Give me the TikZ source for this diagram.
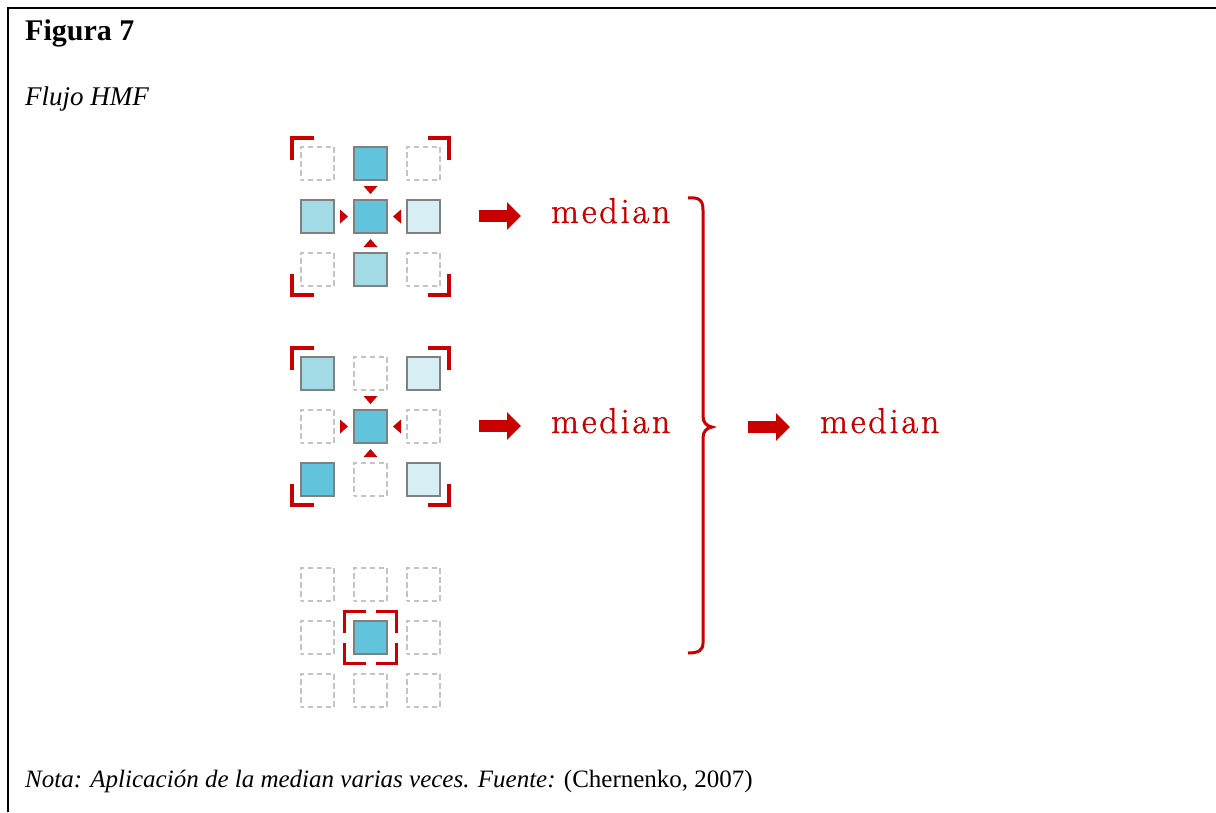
\documentclass[tikz,border=0pt]{standalone}
\usepackage{fontspec}
\setmainfont{Liberation Serif}
\newfontfamily\lmfont[LetterSpace=8,FakeBold=1.2]{Latin Modern Roman}
\usetikzlibrary{arrows.meta}
\definecolor{hred}{RGB}{200,0,0}
\definecolor{sqdarkc}{RGB}{98,195,220}
\definecolor{sqmedc}{RGB}{162,219,230}
\definecolor{sqlightc}{RGB}{214,238,244}
\definecolor{sqborder}{RGB}{128,128,128}
\definecolor{sqdash}{RGB}{196,196,196}
\tikzset{
  cell/.style={draw=sqborder, line width=2.2pt, minimum size=33.5pt, inner sep=0pt, outer sep=0pt},
  cdark/.style={cell, fill=sqdarkc},
  cmed/.style={cell, fill=sqmedc},
  clight/.style={cell, fill=sqlightc},
  cempty/.style={draw=sqdash, line width=2pt, dash pattern=on 5.5pt off 3.5pt, dash phase=2pt, minimum size=33.5pt, inner sep=0pt},
  bracketline/.style={draw=hred, line width=3.6pt},
  tri/.style={fill=hred},
  bigarrow/.style={draw=hred, line width=12pt, -{Triangle[length=14pt,width=27pt]}},
  medtxt/.style={text=hred, font=\lmfont\fontsize{36}{40}\selectfont, anchor=base west, inner sep=0pt},
  captxt/.style={anchor=base west, inner sep=0pt, font=\fontsize{25}{30}\selectfont},
  brace/.style={draw=hred, line width=3pt}
}
\begin{document}
\begin{tikzpicture}[x=1pt,y=-1pt]
\useasboundingbox (0,0) rectangle (1216,812);
\fill[white] (0,0) rectangle (1216,812);
% frame
\draw[line width=2pt] (8,812) -- (8,7.5) -- (1216,7.5);
% captions
\node[captxt, font=\fontsize{30}{34}\selectfont\bfseries] (fig) at (25,40) {Figura 7};
\node[captxt, font=\fontsize{27}{32}\selectfont\itshape] (tit) at (25,105) {Flujo HMF};
\node[captxt] (nota) at (25,787) {\textit{Nota: Aplicación de la median varias veces. Fuente:} (Chernenko, 2007)};

% grid 1
\begin{scope}[shift={(370.5,216.5)}]
  \foreach \i/\j/\s in {-1/-1/cempty,1/-1/cempty,-1/1/cempty,1/1/cempty,0/-1/cdark,-1/0/cmed,0/0/cdark,1/0/clight,0/1/cmed}
    \node[\s] (ga\i\j) at (\i*53,\j*53) {};
  \foreach \a in {0,90,180,270} {
    \fill[tri,rotate=\a] (-7,-30.5) -- (7,-30.5) -- (0,-22.5) -- cycle;
    \draw[bracketline,rotate=\a] (-78.5,-57) -- (-78.5,-78.5) -- (-57,-78.5);
  }
\end{scope}
% grid 2
\begin{scope}[shift={(370.5,426.5)}]
  \foreach \i/\j/\s in {-1/-1/cmed,0/-1/cempty,1/-1/clight,-1/0/cempty,0/0/cdark,1/0/cempty,-1/1/cdark,0/1/cempty,1/1/clight}
    \node[\s] (gb\i\j) at (\i*53,\j*53) {};
  \foreach \a in {0,90,180,270} {
    \fill[tri,rotate=\a] (-7,-30.5) -- (7,-30.5) -- (0,-22.5) -- cycle;
    \draw[bracketline,rotate=\a] (-78.5,-57) -- (-78.5,-78.5) -- (-57,-78.5);
  }
\end{scope}
% grid 3
\begin{scope}[shift={(370.5,637.5)}]
  \foreach \i/\j/\s in {-1/-1/cempty,0/-1/cempty,1/-1/cempty,-1/0/cempty,0/0/cdark,1/0/cempty,-1/1/cempty,0/1/cempty,1/1/cempty}
    \node[\s] (gc\i\j) at (\i*53,\j*53) {};
  \foreach \a in {0,90,180,270} {
    \draw[bracketline,rotate=\a] (-26,-5) -- (-26,-26) -- (-5,-26);
  }
\end{scope}

% arrows and medians
\coordinate (a1s) at (479,216);
\coordinate (a1e) at (521,216);
\coordinate (a2s) at (479,426);
\coordinate (a2e) at (521,426);
\coordinate (a3s) at (748,427);
\coordinate (a3e) at (790,427);
\draw[bigarrow] (a1s) -- (a1e);
\draw[bigarrow] (a2s) -- (a2e);
\draw[bigarrow] (a3s) -- (a3e);
\node[medtxt] (m1) at (551,223) {median};
\node[medtxt] (m2) at (551,433) {median};
\node[medtxt] (m3) at (820,433) {median};

% brace
\draw[brace] (688,198) .. controls (699,197) and (703,200) .. (703,210)
  -- (703,416) .. controls (703,422) and (706,426) .. (712,427)
  .. controls (706,428) and (703,432) .. (703,438)
  -- (703,643) .. controls (703,650) and (699,653) .. (688,653);
\end{tikzpicture}
\end{document}
